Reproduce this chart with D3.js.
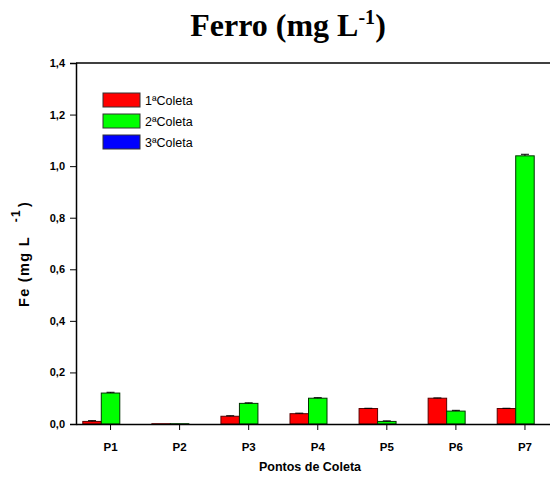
<!DOCTYPE html>
<html>
<head>
<meta charset="utf-8">
<script src="https://cdn.jsdelivr.net/npm/d3@7"></script>
<style>
  body { margin: 0; background: #fff; }
  svg { display: block; }
</style>
</head>
<body>
<svg id="chart" width="550" height="482"></svg>
<script>
// Iron concentration per sampling point and campaign
const points = ["P1", "P2", "P3", "P4", "P5", "P6", "P7"];
const seriesNames = ["1ªColeta", "2ªColeta", "3ªColeta"];
const coleta1 = [0.01, 0.001, 0.03, 0.04, 0.06, 0.10, 0.06];
const coleta2 = [0.12, 0.001, 0.08, 0.10, 0.01, 0.05, 1.04];
const coleta3 = [0, 0, 0, 0, 0, 0, 0];
const err1 = [0.003, 0, 0.002, 0.002, 0.001, 0.001, 0.001];
const err2 = [0.003, 0, 0.002, 0.002, 0.002, 0.003, 0.006];
const err3 = [0, 0, 0, 0, 0, 0, 0];
const yTicks = [0, 0.2, 0.4, 0.6, 0.8, 1.0, 1.2, 1.4];
const colors = ["#ff0000", "#00ff00", "#0000ff"];
const strokes = ["#5a0000", "#003300", "#000033"];

const values = [coleta1, coleta2, coleta3];
const errors = [err1, err2, err3];

const svg = d3.select("#chart");
const plotLeft = 76, plotTop = 63, plotBottom = 424, plotRight = 559.5;

const x = d3.scaleBand().domain(points).range([plotLeft, plotRight]).padding(0);
const inner = d3.scaleBand().domain(seriesNames).range([0, 55.5]);
const y = d3.scaleLinear().domain([0, 1.4]).range([plotBottom, plotTop]);

const fmt = d => d3.format(".1f")(d).replace(".", ",");

// Bars
seriesNames.forEach((name, si) => {
  const g = svg.append("g");
  points.forEach((p, i) => {
    const bx = x(p) + (x.bandwidth() - 55.5) / 2 + inner(name);
    const v = values[si][i];
    g.append("rect")
      .attr("x", bx)
      .attr("y", y(v))
      .attr("width", inner.bandwidth())
      .attr("height", Math.max(0, plotBottom - y(v)))
      .attr("fill", colors[si])
      .attr("stroke", strokes[si])
      .attr("stroke-width", 1);
    const e = errors[si][i];
    if (e > 0) {
      const cx = bx + inner.bandwidth() / 2;
      g.append("line")
        .attr("x1", cx).attr("x2", cx)
        .attr("y1", y(v)).attr("y2", y(v + e))
        .attr("stroke", "#000").attr("stroke-width", 1);
      g.append("line")
        .attr("x1", cx - 4).attr("x2", cx + 4)
        .attr("y1", y(v + e)).attr("y2", y(v + e))
        .attr("stroke", "#000").attr("stroke-width", 1);
    }
  });
});

// Axes
const yAxis = d3.axisLeft(y).tickValues(yTicks).tickFormat(fmt).tickSize(6).tickPadding(5);
const gy = svg.append("g").attr("transform", `translate(${plotLeft},0)`).call(yAxis);
gy.select(".domain").attr("stroke", "#000").attr("stroke-width", 1.5);
gy.selectAll("text").attr("font-family", "Liberation Sans, Arial, sans-serif")
  .attr("font-size", 11).attr("font-weight", "bold").attr("fill", "#000");

const xAxis = d3.axisBottom(x).tickSize(6).tickPadding(13).tickSizeOuter(0);
const gx = svg.append("g").attr("transform", `translate(0,${plotBottom})`).call(xAxis);
gx.select(".domain").attr("stroke", "#000").attr("stroke-width", 1.5);
gx.selectAll("text").attr("font-family", "Liberation Sans, Arial, sans-serif")
  .attr("font-size", 11.5).attr("font-weight", "bold").attr("fill", "#000");

// Top frame line
svg.append("line").attr("x1", plotLeft).attr("x2", 550).attr("y1", plotTop).attr("y2", plotTop)
  .attr("stroke", "#000").attr("stroke-width", 1.5);

// Title
const title = svg.append("text")
  .attr("x", 288).attr("y", 36).attr("text-anchor", "middle")
  .attr("font-family", "Liberation Serif, 'Times New Roman', serif")
  .attr("font-size", 32).attr("font-weight", "bold").attr("fill", "#000");
title.append("tspan").text("Ferro (mg L");
title.append("tspan").attr("font-size", 20).attr("dy", -12).text("-1");
title.append("tspan").attr("dy", 12).text(")");

// Axis titles
svg.append("text")
  .attr("x", 310).attr("y", 471).attr("text-anchor", "middle")
  .attr("font-family", "Liberation Sans, Arial, sans-serif")
  .attr("font-size", 12.5).attr("font-weight", "bold").attr("fill", "#000")
  .text("Pontos de Coleta");

const yt = svg.append("text")
  .attr("transform", "translate(29,307) rotate(-90)")
  .attr("text-anchor", "start")
  .attr("font-family", "Liberation Sans, Arial, sans-serif")
  .attr("font-size", 14.5).attr("font-weight", "bold").attr("fill", "#000")
  .attr("letter-spacing", 1.3);
yt.append("tspan").text("Fe (mg L");
yt.append("tspan").attr("font-size", 12).attr("dy", -9).attr("dx", 14).text("-1");
yt.append("tspan").attr("dy", 9).attr("dx", 2).text(")");

// Legend
const legend = svg.append("g");
seriesNames.forEach((name, i) => {
  const ly = 93 + i * 21;
  legend.append("rect").attr("x", 103).attr("y", ly).attr("width", 37).attr("height", 14)
    .attr("fill", colors[i]).attr("stroke", "#333").attr("stroke-width", 1);
  legend.append("text").attr("x", 145).attr("y", ly + 11.5)
    .attr("font-family", "Liberation Sans, Arial, sans-serif")
    .attr("font-size", 12.5).attr("fill", "#000").text(name);
});
</script>
</body>
</html>
